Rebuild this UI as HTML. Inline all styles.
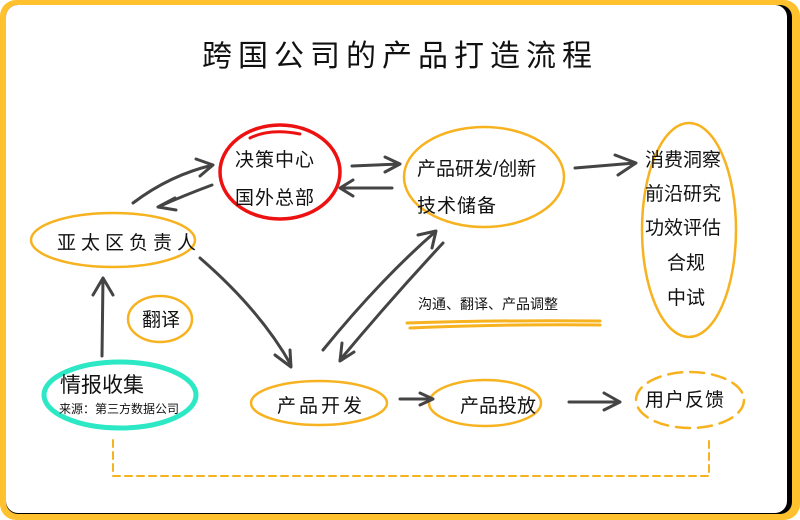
<!DOCTYPE html>
<html><head><meta charset="utf-8"><style>
html,body{margin:0;padding:0;background:#fff;}
svg{display:block}
text{font-family:"Liberation Sans","Noto Sans CJK SC",sans-serif;fill:#111;}
</style></head><body>
<svg width="800" height="520" viewBox="0 0 800 520" xmlns="http://www.w3.org/2000/svg">
<rect x="0" y="0" width="800" height="520" rx="16" fill="#FFC12E"/>
<rect x="6" y="5" width="786" height="509" rx="12" fill="#000"/>
<rect x="6" y="5" width="781" height="508" rx="12" fill="#fff"/>

<text x="400" y="66" font-size="30" text-anchor="middle" letter-spacing="6">跨国公司的产品打造流程</text>

<g fill="none" stroke-linecap="round">
<ellipse cx="280" cy="172" rx="60" ry="47" stroke="#EE1111" stroke-width="3.5"/>
<path d="M250 138 Q270 128 300 134" stroke="#EE1111" stroke-width="3"/>
<ellipse cx="113" cy="240" rx="82" ry="27" stroke="#F7B21F" stroke-width="2.5"/>
<ellipse cx="484" cy="177" rx="80" ry="50" stroke="#F7B21F" stroke-width="2.5"/>
<ellipse cx="689" cy="230" rx="47" ry="107" stroke="#F7B21F" stroke-width="2.5"/>
<ellipse cx="160" cy="319" rx="32" ry="23" stroke="#F7B21F" stroke-width="2.5"/>
<ellipse cx="120" cy="395" rx="76" ry="33" stroke="#2DE8C4" stroke-width="5"/>
<ellipse cx="319" cy="403" rx="68" ry="22" stroke="#F7B21F" stroke-width="2.5"/>
<ellipse cx="485" cy="403" rx="56" ry="23" stroke="#F7B21F" stroke-width="2.5"/>
<ellipse cx="690" cy="400" rx="54" ry="28" stroke="#F7B21F" stroke-width="2.5" stroke-dasharray="14 8"/>
<path d="M113 440 V476 H709 V438" stroke="#F7B21F" stroke-width="2" stroke-dasharray="7 5"/>
<path d="M407 323 Q500 320 600 321 M410 328 Q500 324 600 325" stroke="#F7B21F" stroke-width="3"/>

<g stroke="#444" stroke-width="3" stroke-linejoin="round">
<path d="M133 203 Q170 175 213 165 M196 159 L213 165 L200 176"/>
<path d="M212 185 Q185 195 158 207 M175 198 L158 207 L176 210"/>
<path d="M352 166 L400 164 M385 157 L400 164 L385 172"/>
<path d="M392 188 L340 188 M353 180 L340 188 L353 196"/>
<path d="M575 168 L635 163 M615 155 L636 163 L618 175"/>
<path d="M102 356 L103 278 M93 295 L103 278 L113 295"/>
<path d="M200 258 Q260 310 291 365 M275 355 L291 367 L290 350"/>
<path d="M323 350 Q380 280 435 232 M418 235 L436 231 L432 248"/>
<path d="M443 243 Q390 300 340 360 M342 343 L340 361 L354 352"/>
<path d="M400 399 L433 399 M420 393 L433 399 L420 405"/>
<path d="M569 402 L620 402 M604 393 L620 402 L604 410"/>
</g>
</g>

<g font-size="19">
<text x="235" y="166" letter-spacing="1">决策中心</text>
<text x="235" y="204" letter-spacing="1">国外总部</text>
<text x="57" y="249" letter-spacing="5">亚太区负责人</text>
<text x="417" y="175">产品研发/创新</text>
<text x="417" y="212" letter-spacing="1">技术储备</text>
<text x="645" y="166">消费洞察</text>
<text x="645" y="200">前沿研究</text>
<text x="645" y="234">功效评估</text>
<text x="667" y="269">合规</text>
<text x="667" y="304">中试</text>
<text x="142" y="326">翻译</text>
<text x="60" y="392" font-size="21">情报收集</text>
<text x="59" y="413" font-size="12">来源：第三方数据公司</text>
<text x="277" y="412" letter-spacing="3">产品开发</text>
<text x="460" y="412">产品投放</text>
<text x="645" y="406" letter-spacing="1">用户反馈</text>
<text x="418" y="309" font-size="14">沟通、翻译、产品调整</text>
</g>
</svg>
</body></html>
